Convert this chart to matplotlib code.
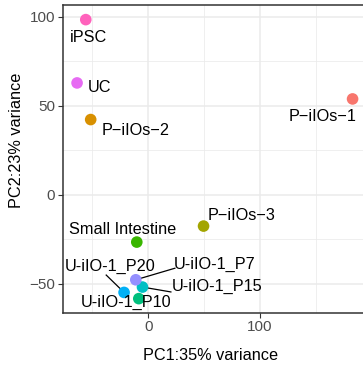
import matplotlib
matplotlib.use('Agg')
import matplotlib.pyplot as plt

#-------------------------------------------------------------------------------
# data
samples = ['P\u2212iIOs\u22121', 'P\u2212iIOs\u22122', 'P\u2212iIOs\u22123', 'Small Intestine',
           'U-iIO-1_P10', 'U-iIO-1_P15', 'U-iIO-1_P20', 'U-iIO-1_P7', 'UC', 'iPSC']
pc1 = [183.0, -51.6, 49.5, -10.3, -8.5, -5.2, -21.7, -11.2, -63.8, -56.0]
pc2 = [53.9, 42.3, -17.6, -26.6, -58.4, -51.9, -54.9, -47.8, 62.9, 98.5]
colors = ['#F8766D', '#D89000', '#A3A500', '#39B600', '#00BF7D',
          '#00BFC4', '#00B0F6', '#9590FF', '#E76BF3', '#FF62BC']
# where the repelled labels ended up (data units)
lab_x = [156.5, -11.5, 83.9, -22.6, -20.0, 61.2, -33.8, 59.5, -43.5, -53.8]
lab_y = [44.0, 36.0, -11.6, -19.7, -60.8, -51.5, -40.3, -39.3, 60.5, 88.6]
# start of the leader segment at the label edge (None = no segment)
seg_x = [None, None, None, None, None, 20.8, -38.1, 24.4, None, None]
seg_y = [None, None, None, None, None, -54.7, -44.9, -41.2, None, None]
#-------------------------------------------------------------------------------
plt.rcParams['font.family'] = ['Liberation Sans', 'DejaVu Sans']

W, H = 363, 368
fig = plt.figure(figsize=(W/100, H/100), dpi=100)
left, right, bottom, top = 63, 366.3, 312.5, 5.4
ax = fig.add_axes([left/W, 1 - bottom/H, (right-left)/W, (bottom-top)/H])
ax.set_xlim(-76.4, 195.3)
ax.set_ylim(-66.2, 106.5)

ax.set_xticks([0, 100])
ax.set_xticks([-50, 50, 150], minor=True)
ax.set_yticks([-50, 0, 50, 100])
ax.set_yticks([-25, 25, 75], minor=True)
ax.grid(True, which='major', color='#EBEBEB', lw=1.1)
ax.grid(True, which='minor', color='#EBEBEB', lw=0.55)
ax.set_axisbelow(True)
ax.tick_params(which='major', length=3.6, width=0.8, color='#333333',
               labelcolor='#4D4D4D', labelsize=11, pad=2)
ax.tick_params(which='minor', length=0)
for s in ax.spines.values():
    s.set_color('#333333')
    s.set_linewidth(1.1)

# leader segments first, points on top
for k in range(len(samples)):
    if seg_x[k] is not None:
        ax.plot([seg_x[k], pc1[k]], [seg_y[k], pc2[k]], color='black', lw=0.9,
                zorder=2, solid_capstyle='butt')

ax.scatter(pc1, pc2, s=70, c=colors, linewidths=0, zorder=3)

for k in range(len(samples)):
    ax.text(lab_x[k], lab_y[k], samples[k], ha='center', va='center',
            fontsize=11.7, color='black', clip_on=False, zorder=4)

fig.text(210.7/W, 1 - 355/H, 'PC1:35% variance', ha='center', va='center', fontsize=11.7)
fig.text(17/W, 1 - 140/H, 'PC2:23% variance', ha='center', va='center',
         rotation=90, fontsize=11.7)

fig.savefig('out.png', dpi=100)
plt.close()
